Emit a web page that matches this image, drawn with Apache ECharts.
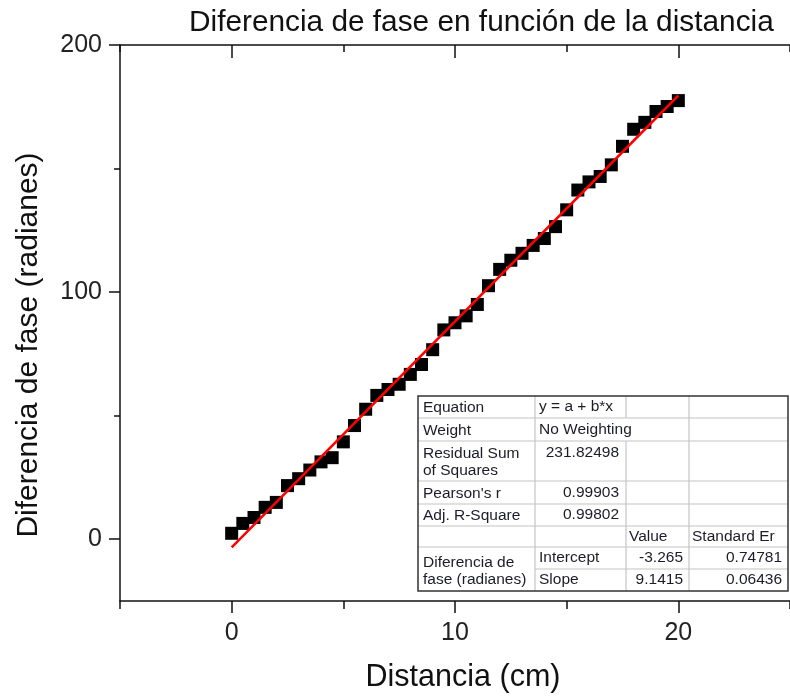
<!DOCTYPE html>
<html><head><meta charset="utf-8">
<script src="https://cdn.jsdelivr.net/npm/echarts@6/dist/echarts.min.js"></script>
<style>html,body{margin:0;padding:0;background:#fff}#c{width:790px;height:698px}</style>
</head><body><div id="c"></div>
<script>
// ---- data ----
const distance = [0, 0.5, 1, 1.5, 2, 2.5, 3, 3.5, 4, 4.5, 5, 5.5, 6, 6.5, 7, 7.5, 8, 8.5, 9, 9.5, 10,
  10.5, 11, 11.5, 12, 12.5, 13, 13.5, 14, 14.5, 15, 15.5, 16, 16.5, 17, 17.5, 18, 18.5, 19, 19.5, 20];
const phase = [2.4, 6.4, 8.8, 12.9, 14.9, 21.7, 24.5, 28.0, 31.3, 33.0, 39.4, 46.0, 52.6, 58.2, 60.6,
  62.7, 66.7, 70.7, 76.7, 84.7, 87.6, 90.4, 95.0, 102.6, 109.2, 112.9, 115.7, 118.9, 121.7, 126.5,
  133.3, 141.3, 144.6, 146.8, 151.5, 159.0, 165.9, 168.7, 173.1, 175.1, 177.5];
const fitX = [0, 20];
const fitY = [-3.265, 179.565];
const xMajorTicks = [0, 10, 20];
const xMinorTicks = [-5, 5, 15, 25];
const yMajorTicks = [0, 100, 200];
const yMinorTicks = [50, 150];
const titleText = 'Diferencia de fase en función de la distancia';
const xName = 'Distancia (cm)';
const yName = 'Diferencia de fase (radianes)';
// fit table text
const tableLabels = ['Equation', 'Weight', 'Residual Sum\nof Squares', "Pearson's r", 'Adj. R-Square'];
const tableValues = ['y = a + b*x', 'No Weighting', '231.82498', '0.99903', '0.99802'];
const tableHeader = ['Value', 'Standard Er'];
const tableGroup = 'Diferencia de\nfase (radianes)';
const tableParams = ['Intercept', 'Slope'];
const paramValues = ['-3.265', '9.1415'];
const paramErrors = ['0.74781', '0.06436'];

// ---- chart ----
const chart = echarts.init(document.getElementById('c'), null, {renderer: 'canvas'});
const FONT = '"Liberation Sans", Arial, sans-serif';
const AX = {color: '#111', width: 1.5};
const points = distance.map((d, i) => [d, phase[i]]);
const fitLine = fitX.map((d, i) => [d, fitY[i]]);

// table geometry
const colX = [418, 535, 626, 689, 788];
const rowY = [396, 418, 441, 481, 504, 526, 547, 569, 591];
const G = '#c4c4c4';
const tf = '15.5px ' + FONT;
const tcol = '#1c1c28';
const g = [];
g.push({type: 'rect', shape: {x: colX[0], y: rowY[0], width: colX[4] - colX[0], height: rowY[8] - rowY[0]},
  style: {fill: '#fff', stroke: 'none'}, z: 10});
function hl(y, x1, x2) { g.push({type: 'line', shape: {x1: x1, y1: y, x2: x2, y2: y}, style: {stroke: G, lineWidth: 1.2}, z: 11}); }
function vl(x, y1, y2) { g.push({type: 'line', shape: {x1: x, y1: y1, x2: x, y2: y2}, style: {stroke: G, lineWidth: 1.2}, z: 11}); }
for (let i = 1; i <= 6; i++) hl(rowY[i], colX[0], colX[4]);
hl(rowY[7], colX[1], colX[4]);
vl(colX[1], rowY[0], rowY[8]);
vl(colX[2], rowY[0], rowY[1]);
vl(colX[2], rowY[2], rowY[8]);
vl(colX[3], rowY[0], rowY[8]);
g.push({type: 'rect', shape: {x: colX[0], y: rowY[0], width: colX[4] - colX[0], height: rowY[8] - rowY[0]},
  style: {fill: 'none', stroke: '#333', lineWidth: 1.5}, z: 12});
function txt(s, x, y, align) {
  g.push({type: 'text', x: x, y: y, z: 13,
    style: {text: s, font: tf, fill: tcol, align: align || 'left', verticalAlign: 'middle', lineHeight: 17}});
}
for (let i = 0; i < 5; i++) {
  const cy = (rowY[i] + rowY[i + 1]) / 2;
  txt(tableLabels[i], colX[0] + 5, cy + 1);
  if (i < 2) txt(tableValues[i], colX[1] + 4, cy);
  else if (i === 2) txt(tableValues[i], colX[2] - 7, rowY[i] + 12, 'right');
  else txt(tableValues[i], colX[2] - 7, cy, 'right');
}
txt(tableHeader[0], colX[2] + 3, (rowY[5] + rowY[6]) / 2);
txt(tableHeader[1], colX[3] + 3, (rowY[5] + rowY[6]) / 2);
txt(tableGroup, colX[0] + 5, (rowY[6] + rowY[8]) / 2 + 2);
for (let k = 0; k < 2; k++) {
  const cy = (rowY[6 + k] + rowY[7 + k]) / 2;
  txt(tableParams[k], colX[1] + 4, cy);
  txt(paramValues[k], colX[3] - 6, cy, 'right');
  txt(paramErrors[k], colX[4] - 6, cy, 'right');
}

const option = {
  animation: false,
  backgroundColor: '#fff',
  title: {text: titleText, left: 184, top: 3,
    textStyle: {fontFamily: FONT, fontSize: 29.8, fontWeight: 'normal', color: '#111'}},
  grid: {left: 120, top: 45, right: -11.5, bottom: 94, containLabel: false},
  xAxis: [
    {type: 'value', position: 'bottom', min: -5, max: 25,
      axisLine: {show: true, onZero: false, lineStyle: AX},
      axisTick: {show: true, inside: false, length: 12, customValues: xMajorTicks, lineStyle: AX},
      axisLabel: {show: true, customValues: xMajorTicks, margin: 20, fontFamily: FONT, fontSize: 25, color: '#222'},
      splitLine: {show: false},
      name: xName, nameLocation: 'middle', nameGap: 61,
      nameTextStyle: {fontFamily: FONT, fontSize: 30.5, color: '#111', padding: [0, 0, 0, 16]}},
    {type: 'value', position: 'bottom', min: -5, max: 25,
      axisLine: {show: false, onZero: false}, splitLine: {show: false}, axisLabel: {show: false},
      axisTick: {show: true, inside: false, length: 8, customValues: xMinorTicks, lineStyle: AX}},
    {type: 'value', position: 'top', min: -5, max: 25,
      axisLine: {show: true, onZero: false, lineStyle: AX}, splitLine: {show: false}, axisLabel: {show: false},
      axisTick: {show: true, inside: true, length: 13, customValues: xMajorTicks, lineStyle: AX}},
    {type: 'value', position: 'top', min: -5, max: 25,
      axisLine: {show: false, onZero: false}, splitLine: {show: false}, axisLabel: {show: false},
      axisTick: {show: true, inside: true, length: 7, customValues: xMinorTicks, lineStyle: AX}}
  ],
  yAxis: [
    {type: 'value', position: 'left', min: -25, max: 200,
      axisLine: {show: true, onZero: false, lineStyle: AX},
      axisTick: {show: true, inside: false, length: 11, customValues: yMajorTicks, lineStyle: AX},
      axisLabel: {show: true, customValues: yMajorTicks, margin: 18, fontFamily: FONT, fontSize: 25, color: '#222'},
      splitLine: {show: false},
      name: yName, nameLocation: 'middle', nameGap: 76, nameRotate: 90,
      nameTextStyle: {fontFamily: FONT, fontSize: 30, color: '#111', padding: [0, 44, 0, 0]}},
    {type: 'value', position: 'left', min: -25, max: 200,
      axisLine: {show: false, onZero: false}, splitLine: {show: false}, axisLabel: {show: false},
      axisTick: {show: true, inside: false, length: 6, customValues: yMinorTicks, lineStyle: AX}}
  ],
  series: [
    {type: 'scatter', xAxisIndex: 0, yAxisIndex: 0, data: points, symbol: 'rect', symbolSize: 13,
      itemStyle: {color: '#000', opacity: 1}, z: 2},
    {type: 'line', xAxisIndex: 0, yAxisIndex: 0, data: fitLine, showSymbol: false, symbol: 'none',
      lineStyle: {color: '#ff0000', width: 2.5}, z: 3}
  ],
  graphic: g
};
chart.setOption(option);
</script></body></html>
